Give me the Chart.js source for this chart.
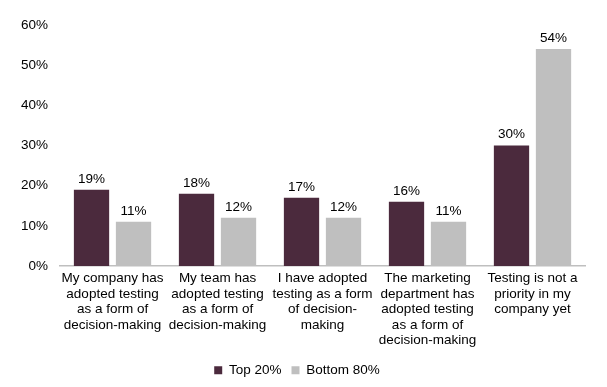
<!DOCTYPE html>
<html>
<head>
<meta charset="utf-8">
<script src="https://cdn.jsdelivr.net/npm/chart.js@4/dist/chart.umd.min.js"></script>
<style>
  html, body { margin: 0; padding: 0; background: #fff; }
  #wrap { width: 607px; height: 387px; }
</style>
</head>
<body>
<div id="wrap"><canvas id="chart"></canvas></div>
<script>
// Categories (multi-line labels as shown under each group)
const categories = [
    ['My company has', 'adopted testing', 'as a form of', 'decision-making'],
    ['My team has', 'adopted testing', 'as a form of', 'decision-making'],
    ['I have adopted', 'testing as a form', 'of decision-', 'making'],
    ['The marketing', 'department has', 'adopted testing', 'as a form of', 'decision-making'],
    ['Testing is not a', 'priority in my', 'company yet']
];
const top20 = [19, 18, 17, 16, 30];
const bottom80 = [11, 12, 12, 11, 54];
const yTicks = [0, 10, 20, 30, 40, 50, 60];

// Simple value labels above each bar
const valueLabels = {
    id: 'valueLabels',
    afterDatasetsDraw(chart) {
        const ctx = chart.ctx;
        ctx.save();
        ctx.font = '13.5px "Liberation Sans", Arial, sans-serif';
        ctx.fillStyle = '#000';
        ctx.textAlign = 'center';
        ctx.textBaseline = 'bottom';
        chart.data.datasets.forEach((ds, i) => {
            chart.getDatasetMeta(i).data.forEach((bar, j) => {
                ctx.fillText(ds.data[j] + '%', bar.x, bar.y - 4);
            });
        });
        ctx.restore();
    }
};

Chart.defaults.font.family = '"Liberation Sans", Arial, sans-serif';
Chart.defaults.font.size = 13.5;
Chart.defaults.color = '#000';

new Chart(document.getElementById('chart'), {
    type: 'bar',
    data: {
        labels: categories,
        datasets: [
            { label: 'Top 20%', data: top20, backgroundColor: '#4B2A3D' },
            { label: 'Bottom 80%', data: bottom80, backgroundColor: '#BFBFBF' }
        ]
    },
    options: {
        responsive: true,
        maintainAspectRatio: false,
        animation: false,
        layout: { padding: { top: 25, right: 22, left: 9, bottom: 0 } },
        datasets: { bar: { categoryPercentage: 0.8, barPercentage: 0.84 } },
        scales: {
            x: {
                grid: { display: false, drawTicks: false },
                border: { color: '#BFBFBF', width: 1.5 },
                ticks: { padding: 5, maxRotation: 0, autoSkip: false, font: { size: 13.5, lineHeight: '15.5px' } }
            },
            y: {
                min: 0, max: 60,
                afterBuildTicks(axis) { axis.ticks = yTicks.map(v => ({ value: v })); },
                grid: { display: false, drawTicks: false },
                border: { display: false },
                ticks: { padding: 12, callback: v => v + '%' }
            }
        },
        plugins: {
            legend: {
                position: 'bottom',
                labels: { boxWidth: 8, boxHeight: 8, padding: 10, font: { size: 13.5 } }
            },
            tooltip: { enabled: false }
        }
    },
    plugins: [valueLabels]
});
</script>
</body>
</html>
